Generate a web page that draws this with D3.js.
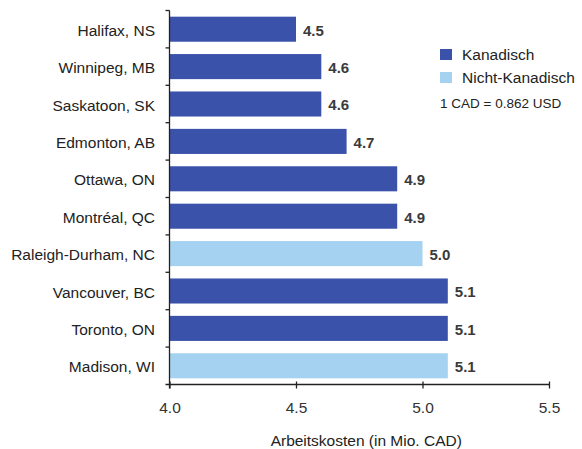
<!DOCTYPE html>
<html>
<head>
<meta charset="utf-8">
<script src="https://cdn.jsdelivr.net/npm/d3@7"></script>
<style>
  html, body { margin: 0; padding: 0; background: #fff; }
  text { font-family: "Liberation Sans", Arial, Helvetica, sans-serif; }
</style>
</head>
<body>
<svg id="chart" width="582" height="449"></svg>
<script>
// Labour costs by city (million CAD)
const cities = ["Halifax, NS", "Winnipeg, MB", "Saskatoon, SK", "Edmonton, AB", "Ottawa, ON",
                "Montréal, QC", "Raleigh-Durham, NC", "Vancouver, BC", "Toronto, ON", "Madison, WI"];
const costs = [4.5, 4.6, 4.6, 4.7, 4.9, 4.9, 5.0, 5.1, 5.1, 5.1];
const groups = ["Kanadisch", "Kanadisch", "Kanadisch", "Kanadisch", "Kanadisch",
                "Kanadisch", "Nicht-Kanadisch", "Kanadisch", "Kanadisch", "Nicht-Kanadisch"];
const xTicks = [4.0, 4.5, 5.0, 5.5];
const legendItems = ["Kanadisch", "Nicht-Kanadisch"];
const note = "1 CAD = 0.862 USD";
const axisTitle = "Arbeitskosten (in Mio. CAD)";

const colour = d3.scaleOrdinal().domain(legendItems).range(["#3a52aa", "#a5d2f0"]);

const svg = d3.select("#chart");
const plotLeft = 169.5, plotRight = 549, plotTop = 10.5, plotBottom = 384.5;
const fontSize = 15.5;

const x = d3.scaleLinear().domain([4.0, 5.5]).range([plotLeft, plotRight]);
const y = d3.scaleBand().domain(cities).range([plotTop, plotBottom]).paddingInner(0.33).paddingOuter(0.165);

// bars
svg.append("g").selectAll("rect").data(cities).join("rect")
  .attr("x", x(4.0))
  .attr("y", d => y(d))
  .attr("width", (d, i) => x(costs[i]) - x(4.0))
  .attr("height", y.bandwidth())
  .attr("fill", (d, i) => colour(groups[i]));

// value labels
svg.append("g").selectAll("text").data(cities).join("text")
  .attr("x", (d, i) => x(costs[i]) + 7)
  .attr("y", d => y(d) + y.bandwidth() / 2 + 1)
  .attr("dy", "0.36em")
  .attr("font-size", 15)
  .attr("font-weight", "bold")
  .attr("fill", "#3a3a3a")
  .text((d, i) => costs[i].toFixed(1));

// category labels
svg.append("g").selectAll("text").data(cities).join("text")
  .attr("x", 155)
  .attr("y", d => y(d) + y.bandwidth() / 2 + 1)
  .attr("dy", "0.36em")
  .attr("text-anchor", "end")
  .attr("font-size", fontSize)
  .attr("fill", "#222")
  .text(d => d);

// y axis line with ticks between categories
const step = y.step();
const yTickPos = d3.range(cities.length).map(i => plotTop + i * step);
svg.append("line").attr("x1", plotLeft).attr("x2", plotLeft).attr("y1", plotTop).attr("y2", plotBottom + 4)
  .attr("stroke", "#222").attr("stroke-width", 1.3);
svg.append("g").selectAll("line").data(yTickPos).join("line")
  .attr("x1", plotLeft - 4).attr("x2", plotLeft).attr("y1", d => d).attr("y2", d => d)
  .attr("stroke", "#222").attr("stroke-width", 1.3);

// x axis
const xAxis = d3.axisBottom(x).tickValues(xTicks).tickFormat(d3.format(".1f"))
  .tickSizeInner(4).tickSizeOuter(0).tickPadding(8);
const gx = svg.append("g").attr("transform", `translate(0,${plotBottom})`).call(xAxis);
gx.select(".domain").attr("stroke", "#222").attr("stroke-width", 1.3)
  .attr("d", `M${plotLeft - 4},0H${plotRight}`);
gx.selectAll(".tick line").attr("stroke", "#222").attr("stroke-width", 1.3).attr("y1", -3);
gx.selectAll(".tick text").attr("font-size", fontSize).attr("fill", "#333")
  .attr("y", 28).attr("dy", null)
  .attr("font-family", "'Liberation Sans', Arial, sans-serif");

svg.append("text").attr("x", (plotLeft + plotRight) / 2 + 7).attr("y", 446)
  .attr("text-anchor", "middle").attr("font-size", fontSize).attr("fill", "#222")
  .text(axisTitle);

// legend
const lg = svg.append("g");
legendItems.forEach((k, i) => {
  lg.append("rect").attr("x", 440).attr("y", 49 + i * 23).attr("width", 12).attr("height", 11)
    .attr("fill", colour(k));
  lg.append("text").attr("x", 462).attr("y", 59.5 + i * 23)
    .attr("font-size", fontSize).attr("fill", "#222").text(k);
});
lg.append("text").attr("x", 440).attr("y", 108)
  .attr("font-size", 13.5).attr("fill", "#222")
  .attr("font-family", "'Liberation Sans Narrow', 'Liberation Sans', Arial, sans-serif")
  .text(note);
</script>
</body>
</html>
